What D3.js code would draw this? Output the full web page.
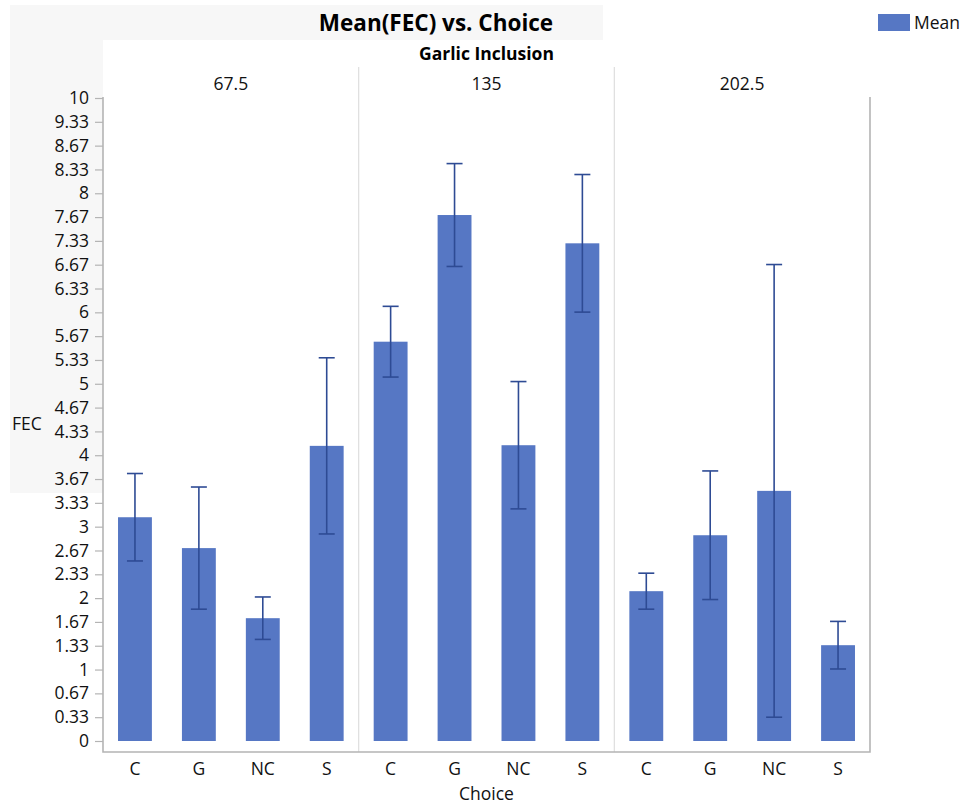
<!DOCTYPE html>
<html>
<head>
<meta charset="utf-8">
<script src="https://cdn.jsdelivr.net/npm/d3@7"></script>
<style>
  html, body { margin: 0; padding: 0; background: #ffffff; }
  svg { display: block; font-family: "Open Sans", "Noto Sans", sans-serif; }
</style>
</head>
<body>
<svg id="chart" width="967" height="808"></svg>
<script>
// Garlic inclusion levels (facets) and feed choice categories
const facets = ["67.5", "135", "202.5"];
const choices = ["C", "G", "NC", "S"];

// Mean FEC per choice, one array per garlic inclusion level
const mean67 = [3.48, 3.00, 1.91, 4.59];
const mean135 = [6.21, 8.18, 4.60, 7.74];
const mean202 = [2.33, 3.20, 3.89, 1.49];

// Half-width of the error bars
const err67 = [0.68, 0.95, 0.33, 1.37];
const err135 = [0.55, 0.80, 0.99, 1.07];
const err202 = [0.28, 1.00, 3.52, 0.37];

// Y axis tick labels, evenly spaced from 0 to 10
const yTickLabels = ["0", "0.33", "0.67", "1", "1.33", "1.67", "2", "2.33", "2.67", "3",
  "3.33", "3.67", "4", "4.33", "4.67", "5", "5.33", "5.67", "6", "6.33", "6.67",
  "7.33", "7.67", "8", "8.33", "8.67", "9.33", "10"];

const means = [mean67, mean135, mean202];
const errs = [err67, err135, err202];
const rows = [];
facets.forEach((f, fi) => choices.forEach((c, ci) => {
  rows.push({ facet: f, choice: c, mean: means[fi][ci], err: errs[fi][ci] });
}));

const svg = d3.select("#chart");
const plot = { left: 103, right: 870, top: 98, bottom: 741, frameBottom: 752, facetTop: 67 };
const barColor = "#5677c4";
const errColor = "#2e4b94";
const frameColor = "#b4b4b4";
const textColor = "#111";
const font = "\"Open Sans\", \"Noto Sans\", sans-serif";
const fs = 17.5;

// Backdrop panels: light grey header/axis area with white plotting area on top
svg.append("rect").attr("x", 10).attr("y", 5).attr("width", 593).attr("height", 488).attr("fill", "#f7f7f7");
svg.append("rect").attr("x", 103).attr("y", 40).attr("width", 864).attr("height", 768).attr("fill", "#ffffff");

const y = d3.scaleLinear().domain([0, 10]).range([plot.bottom, plot.top]);
const yTickValues = yTickLabels.map((_, i) => i * 10 / (yTickLabels.length - 1));

const fx = d3.scaleBand().domain(facets).range([plot.left, plot.right]);
const x = d3.scaleBand().domain(choices).range([0, fx.bandwidth()])
  .paddingInner(0.47).paddingOuter(0.235);

// Title and facet header
svg.append("text").attr("x", 436).attr("y", 31).attr("text-anchor", "middle")
  .attr("font-size", 22.5).attr("font-weight", "bold").attr("fill", "#000")
  .text("Mean(FEC) vs. Choice");
svg.append("text").attr("x", fx("135") + fx.bandwidth() / 2).attr("y", 60).attr("text-anchor", "middle")
  .attr("font-size", 17.5).attr("font-weight", "bold").attr("fill", "#000")
  .text("Garlic Inclusion");

svg.selectAll("text.facet").data(facets).join("text").attr("class", "facet")
  .attr("x", d => fx(d) + fx.bandwidth() / 2).attr("y", 90)
  .attr("text-anchor", "middle").attr("font-size", fs).attr("fill", textColor)
  .text(d => d);

// Facet separators
svg.selectAll("line.sep").data(facets.slice(1)).join("line").attr("class", "sep")
  .attr("x1", d => fx(d)).attr("x2", d => fx(d))
  .attr("y1", plot.facetTop).attr("y2", plot.frameBottom)
  .attr("stroke", "#dedede").attr("stroke-width", 1.2);

// Plot frame: left axis, bottom and right border
svg.append("path")
  .attr("d", `M${plot.left},${plot.top - 1}V${plot.frameBottom}H${plot.right}V${plot.top - 1}`)
  .attr("fill", "none").attr("stroke", frameColor).attr("stroke-width", 1.6);

// Y axis
const yAxis = svg.append("g").attr("transform", `translate(${plot.left},0)`)
  .call(d3.axisLeft(y).tickValues(yTickValues).tickFormat((d, i) => yTickLabels[i])
    .tickSize(8).tickPadding(6));
yAxis.select(".domain").remove();
yAxis.selectAll(".tick line").attr("stroke", frameColor).attr("stroke-width", 1.2);
yAxis.selectAll(".tick text").attr("font-size", fs).attr("font-family", font).attr("fill", textColor);

svg.append("text").attr("x", 12).attr("y", 430).attr("font-size", fs).attr("fill", textColor).text("FEC");

// X axis labels per facet
facets.forEach(f => {
  const g = svg.append("g").attr("transform", `translate(${fx(f)},${plot.frameBottom})`)
    .call(d3.axisBottom(x).tickSize(0).tickPadding(11));
  g.select(".domain").remove();
  g.selectAll(".tick text").attr("font-size", fs).attr("font-family", font).attr("fill", textColor);
});
svg.append("text").attr("x", fx("135") + fx.bandwidth() / 2).attr("y", 800).attr("text-anchor", "middle")
  .attr("font-size", fs).attr("fill", textColor).text("Choice");

// Bars
svg.selectAll("rect.bar").data(rows).join("rect").attr("class", "bar")
  .attr("x", d => fx(d.facet) + x(d.choice))
  .attr("width", x.bandwidth())
  .attr("y", d => y(d.mean))
  .attr("height", d => y(0) - y(d.mean))
  .attr("fill", barColor);

// Error bars
const capHalf = 8;
const eb = svg.selectAll("g.err").data(rows).join("g").attr("class", "err")
  .attr("transform", d => `translate(${fx(d.facet) + x(d.choice) + x.bandwidth() / 2},0)`)
  .attr("stroke", errColor).attr("stroke-width", 1.6);
eb.append("line").attr("y1", d => y(d.mean + d.err)).attr("y2", d => y(d.mean - d.err));
eb.append("line").attr("x1", -capHalf).attr("x2", capHalf)
  .attr("y1", d => y(d.mean + d.err)).attr("y2", d => y(d.mean + d.err));
eb.append("line").attr("x1", -capHalf).attr("x2", capHalf)
  .attr("y1", d => y(d.mean - d.err)).attr("y2", d => y(d.mean - d.err));

// Legend
svg.append("rect").attr("x", 878).attr("y", 14).attr("width", 32).attr("height", 17).attr("fill", barColor);
svg.append("text").attr("x", 914).attr("y", 29).attr("font-size", fs).attr("fill", textColor).text("Mean");
</script>
</body>
</html>
